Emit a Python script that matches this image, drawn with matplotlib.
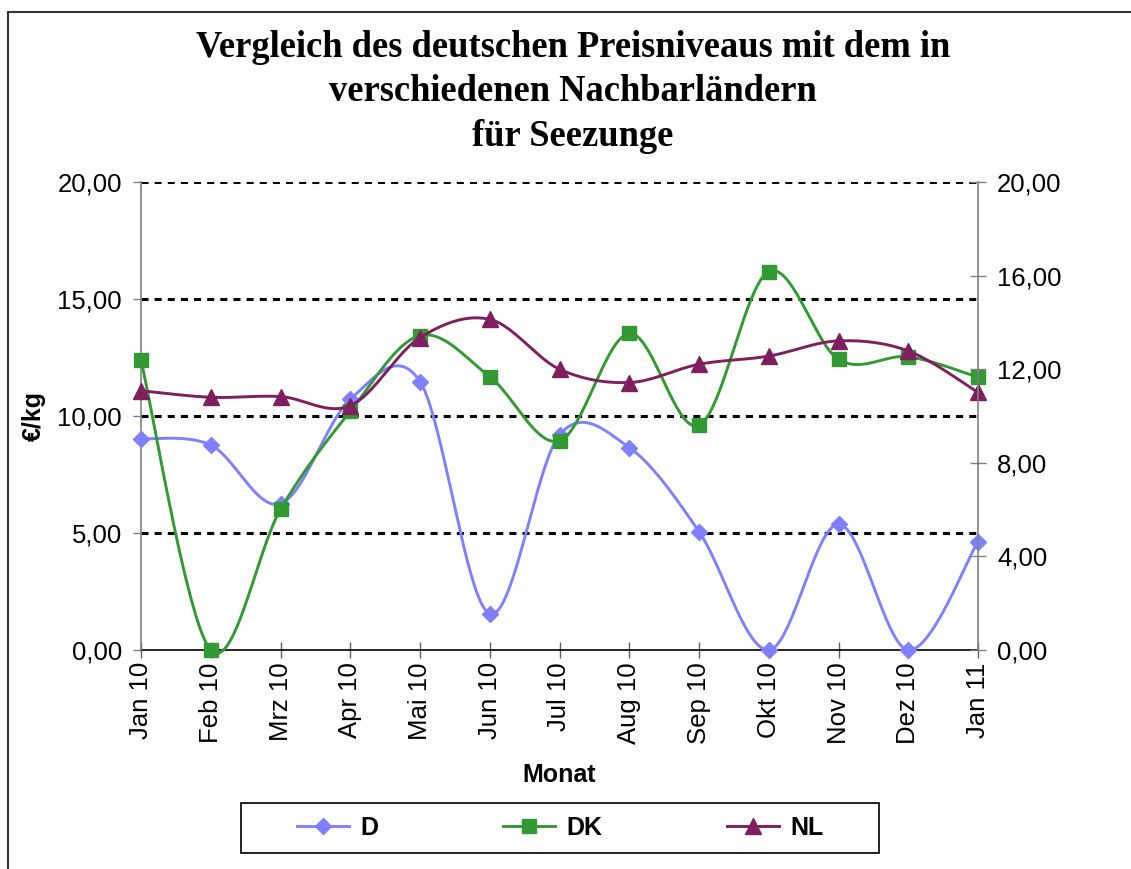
import numpy as np
import matplotlib
matplotlib.use('Agg')
import matplotlib.pyplot as plt
from matplotlib.patches import Rectangle

months = ["Jan 10", "Feb 10", "Mrz 10", "Apr 10", "Mai 10", "Jun 10", "Jul 10",
          "Aug 10", "Sep 10", "Okt 10", "Nov 10", "Dez 10", "Jan 11"]
d_values = [9.03, 8.76, 6.25, 10.71, 11.47, 1.55, 9.19, 8.65, 5.06, 0.0, 5.37, 0.0, 4.63]
dk_values = [12.38, 0.0, 6.01, 10.20, 13.44, 11.68, 8.94, 13.53, 9.60, 16.17, 12.42, 12.53, 11.66]
nl_values = [11.08, 10.80, 10.83, 10.44, 13.35, 14.13, 12.00, 11.43, 12.21, 12.56, 13.21, 12.78, 11.01]
left_ticks = [0, 5, 10, 15, 20]
right_ticks = [0, 4, 8, 12, 16, 20]

title_lines = ["Vergleich des deutschen Preisniveaus mit dem in",
               "verschiedenen Nachbarländern",
               "für Seezunge"]

plt.rcParams['font.family'] = ['Liberation Sans', 'DejaVu Sans']

N = 40


def smooth(x, y, n=N):
    P = np.column_stack([x, y]).astype(float)
    Pe = np.vstack([P[0], P, P[-1]])
    t = np.linspace(0, 1, n, endpoint=False)[:, None]
    out = []
    for i in range(len(P) - 1):
        p0 = Pe[i + 1]
        p3 = Pe[i + 2]
        c1 = p0 + (Pe[i + 2] - Pe[i]) / 6.0
        c2 = p3 - (Pe[i + 3] - Pe[i + 1]) / 6.0
        b = ((1 - t) ** 3) * p0 + 3 * ((1 - t) ** 2) * t * c1 + 3 * (1 - t) * t ** 2 * c2 + t ** 3 * p3
        out.append(b)
    out.append(P[-1][None, :])
    arr = np.vstack(out)
    return arr[:, 0], arr[:, 1]


W, H = 1131, 869
fig = plt.figure(figsize=(W / 100, H / 100), dpi=100)
ax = fig.add_axes([141 / W, 1 - 650 / H, 837 / W, 468 / H])

x = np.arange(len(months))
series = [
    ("D", d_values, "#8080FF", "D", 8.5),
    ("DK", dk_values, "#339933", "s", 9.5),
    ("NL", nl_values, "#7F1F5F", "^", 11.5),
]

for v in left_ticks[1:]:
    ax.axhline(v, color='black', lw=2.2, linestyle=(0, (2.3, 2.0)), zorder=1)

for i, (name, vals, col, mk, ms) in enumerate(series):
    xs, ys = smooth(x, vals)
    ax.plot(xs, ys, color=col, lw=2.1, marker=mk, ms=ms, mfc=col, mec=col,
            markevery=list(range(0, len(xs), N)), label=name, clip_on=False,
            zorder=3 + i)

ax.set_xlim(0, len(months) - 1)
ax.set_ylim(0, 20)
ax.set_xticks(x)
ax.set_xticklabels(months, rotation=90, fontsize=18.5)
ax.set_yticks(left_ticks)
ax.set_yticklabels([f"{v:.2f}".replace('.', ',') for v in left_ticks], fontsize=18.5)
ax.tick_params(axis='y', direction='out', length=5.8, width=1.0, color='#808080', pad=8)
ax.tick_params(axis='x', direction='inout', length=11.5, width=1.0, color='#606060', pad=3)

for s in ['top', 'right']:
    ax.spines[s].set_visible(False)
ax.spines['left'].set_color('#808080')
ax.spines['left'].set_linewidth(1.2)
ax.spines['bottom'].set_color('black')
ax.spines['bottom'].set_linewidth(1.2)
ax.spines['bottom'].set_zorder(2)

ax2 = ax.twinx()
ax2.set_ylim(0, 20)
ax2.set_yticks(right_ticks)
ax2.set_yticklabels([f"{v:.2f}".replace('.', ',') for v in right_ticks], fontsize=18.5)
ax2.tick_params(axis='y', direction='inout', length=11.5, width=1.0, color='#808080', pad=8)
for s in ['top', 'left', 'bottom']:
    ax2.spines[s].set_visible(False)
ax2.spines['right'].set_color('#808080')
ax2.spines['right'].set_linewidth(1.2)

ax.set_ylabel("€/kg", fontsize=18, fontweight='bold')
ax.yaxis.set_label_coords(-0.113, 0.5)
ax.set_xlabel("Monat", fontsize=18, fontweight='bold')
ax.xaxis.set_label_coords(0.5, -(775 - 650) / 468)
ax.xaxis.label.set_va('center')

baselines = [57, 101, 146]
for line, yb in zip(title_lines, baselines):
    fig.text(573 / W, 1 - yb / H, line, ha='center', va='baseline',
             fontsize=26.3, fontweight='bold', family=['Liberation Serif', 'DejaVu Serif'])

handles, labels = ax.get_legend_handles_labels()
leg = fig.legend(handles, labels, loc='center', bbox_to_anchor=(560 / W, 1 - 828 / H),
                 ncol=3, frameon=False, handlelength=2.08, handletextpad=0.44,
                 columnspacing=5.0, prop={'size': 18, 'weight': 'bold'})

fig.patches.append(Rectangle((241 / W, 1 - 853 / H), 638 / W, 50 / H,
                             transform=fig.transFigure, fill=False,
                             edgecolor='black', lw=1.2))
fig.patches.append(Rectangle((8 / W, -0.1), 1.2, 1.1 - 12 / H,
                             transform=fig.transFigure, fill=False,
                             edgecolor='#333333', lw=1.5))

fig.savefig("out.png", dpi=100)
